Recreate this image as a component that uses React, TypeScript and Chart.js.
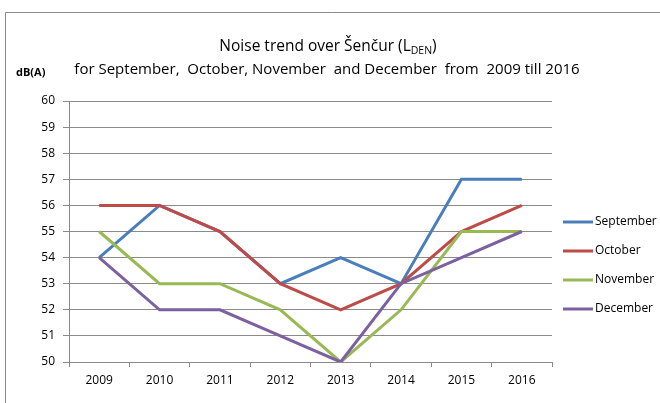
import React, { useEffect, useRef } from "react";
import { Chart, registerables } from "chart.js";

Chart.register(...registerables);

const years = ["2009", "2010", "2011", "2012", "2013", "2014", "2015", "2016"];
const september = [54, 56, 55, 53, 54, 53, 57, 57];
const october = [56, 56, 55, 53, 52, 53, 55, 56];
const november = [55, 53, 53, 52, 50, 52, 55, 55];
const december = [54, 52, 52, 51, 50, 53, 54, 55];
const seriesNames = ["September", "October", "November", "December"];
const seriesColors = ["#4a7ebb", "#be4b48", "#98b954", "#7d60a0"];
const titleMain = "Noise trend over Šenčur (L";
const titleSub = "DEN";
const titleLine2 = "for September,  October, November  and December  from  2009 till 2016";
const yAxisTitle = "dB(A)";

const FONT = "'Open Sans', 'Noto Sans', sans-serif";

const decorPlugin = {
  id: "decor",
  afterDraw(chart: any) {
    const ctx = chart.ctx;
    ctx.save();
    // outer frame
    ctx.strokeStyle = "#8a8a8a";
    ctx.lineWidth = 1;
    ctx.beginPath();
    ctx.moveTo(5.5, 403);
    ctx.lineTo(5.5, 12.5);
    ctx.lineTo(660, 12.5);
    ctx.stroke();

    ctx.fillStyle = "#000";
    ctx.textBaseline = "middle";
    // title line 1 with subscript
    ctx.font = `15.5px ${FONT}`;
    const w1 = ctx.measureText(titleMain).width;
    ctx.font = `10.5px ${FONT}`;
    const ws = ctx.measureText(titleSub).width;
    ctx.font = `15.5px ${FONT}`;
    const w3 = ctx.measureText(")").width;
    const total = w1 + ws + w3;
    let x = 328 - total / 2;
    ctx.textAlign = "left";
    ctx.fillText(titleMain, x, 47);
    x += w1;
    ctx.font = `10.5px ${FONT}`;
    ctx.fillText(titleSub, x, 51);
    x += ws;
    ctx.font = `15.5px ${FONT}`;
    ctx.fillText(")", x, 47);
    // line 2
    ctx.textAlign = "center";
    ctx.font = `15px ${FONT}`;
    ctx.fillText(titleLine2, 327, 70);
    // y axis title
    ctx.font = `bold 11px ${FONT}`;
    ctx.textAlign = "left";
    ctx.fillText(yAxisTitle, 16, 73);

    // legend
    const ys = [222, 251, 280, 309];
    chart.data.datasets.forEach((ds: any, i: number) => {
      ctx.strokeStyle = ds.borderColor;
      ctx.lineWidth = 3;
      ctx.beginPath();
      ctx.moveTo(563, ys[i]);
      ctx.lineTo(593, ys[i]);
      ctx.stroke();
      ctx.fillStyle = "#000";
      ctx.font = `12px ${FONT}`;
      ctx.textAlign = "left";
      ctx.textBaseline = "middle";
      ctx.fillText(ds.label, 595, ys[i]);
    });
    ctx.restore();
  },
};

export default function App() {
  const ref = useRef<HTMLCanvasElement>(null);
  useEffect(() => {
    if (!ref.current) return;
    const data = [september, october, november, december];
    const chart = new Chart(ref.current, {
      type: "line",
      data: {
        labels: years,
        datasets: seriesNames.map((name, i) => ({
          label: name,
          data: data[i],
          borderColor: seriesColors[i],
          backgroundColor: seriesColors[i],
          borderWidth: 3,
          pointRadius: 0,
          tension: 0,
          fill: false,
          order: seriesNames.length - 1 - i,
        })),
      },
      options: {
        responsive: false,
        animation: false,
        devicePixelRatio: 1,
        layout: { padding: { left: 0, top: 101, right: 108, bottom: 0 } },
        plugins: {
          legend: { display: false },
          title: { display: false },
          tooltip: { enabled: false },
        },
        scales: {
          x: {
            offset: true,
            afterFit: (s: any) => {
              s.height = 41;
            },
            grid: {
              offset: true,
              drawOnChartArea: false,
              drawTicks: true,
              tickLength: 5,
              color: "#8a8a8a",
            },
            border: { display: true, color: "#8a8a8a", width: 1 },
            ticks: {
              color: "#000",
              font: { family: FONT, size: 12 },
              padding: 6,
              maxRotation: 0,
            },
          },
          y: {
            min: 50,
            max: 60,
            afterFit: (s: any) => {
              s.width = 69;
            },
            grid: {
              color: "#8a8a8a",
              drawTicks: true,
              tickLength: 6,
            },
            border: { display: true, color: "#8a8a8a", width: 1 },
            ticks: {
              stepSize: 1,
              color: "#000",
              font: { family: FONT, size: 12 },
              padding: 8,
            },
          },
        },
      },
      plugins: [decorPlugin],
    });
    return () => chart.destroy();
  }, []);
  return (
    <div style={{ position: "absolute", left: 0, top: 0, width: 660, height: 403, background: "#fff" }}>
      <canvas ref={ref} width={660} height={403} style={{ display: "block" }} />
    </div>
  );
}
